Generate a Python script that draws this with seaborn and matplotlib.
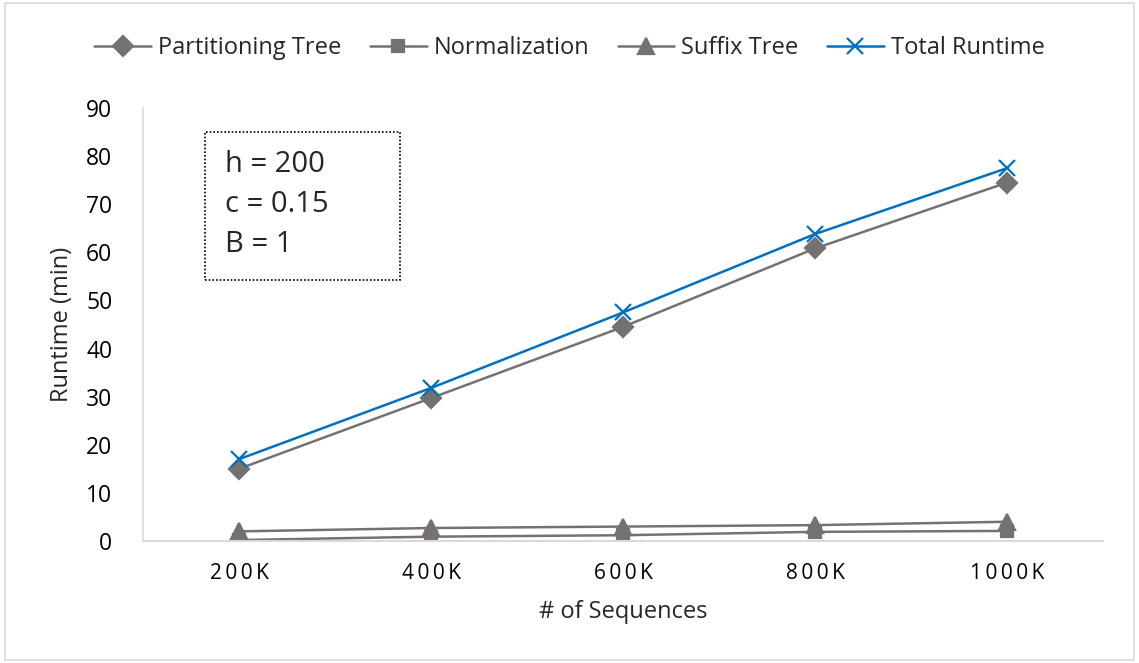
import matplotlib
matplotlib.use("Agg")
import matplotlib.pyplot as plt
import seaborn as sns
import pandas as pd
from matplotlib.patches import Rectangle
from matplotlib.lines import Line2D

categories = ["200K", "400K", "600K", "800K", "1000K"]
partitioning = [15.0, 29.7, 44.5, 60.8, 74.5]
normalization = [0.2, 0.9, 1.2, 1.9, 2.1]
suffix_tree = [2.0, 2.7, 3.0, 3.3, 4.0]
total_runtime = [17.0, 31.8, 47.5, 63.8, 77.5]
series_names = ["Partitioning Tree", "Normalization", "Suffix Tree", "Total Runtime"]
yticks = list(range(0, 91, 10))

series_vals = [partitioning, normalization, suffix_tree, total_runtime]

sns.set_theme(style="white")
plt.rcParams["font.family"] = ["Open Sans", "DejaVu Sans"]

grey = "#767171"
blue = "#0070C0"
palette = {"Partitioning Tree": grey, "Normalization": grey, "Suffix Tree": grey, "Total Runtime": blue}
markers = {"Partitioning Tree": "D", "Normalization": "s", "Suffix Tree": "^", "Total Runtime": "x"}
msize = {"Partitioning Tree": 10, "Normalization": 9, "Suffix Tree": 11, "Total Runtime": 12}

fig = plt.figure(figsize=(11.39, 6.63), dpi=100)
ax = fig.add_axes([143/1139, 1-541/663, 960/1139, 433/663])

for name, vals in zip(series_names, series_vals):
    d = pd.DataFrame({"cat": categories, "val": vals})
    sns.lineplot(data=d, x="cat", y="val", ax=ax, color=palette[name], marker=markers[name],
                 markersize=msize[name], markeredgewidth=1.6, markerfacecolor=palette[name],
                 markeredgecolor=palette[name], linewidth=1.8, sort=False)

ax.set_xlim(-0.5, 4.5)
ax.set_ylim(0, 90)
ax.set_yticks(yticks)
ax.set_yticklabels([str(v) for v in yticks], fontsize=16.5)
ax.set_xticks(range(len(categories)))
ax.set_xticklabels(["\u2009".join(c) for c in categories], fontsize=15)
ax.tick_params(axis="both", colors="black", length=0)
ax.tick_params(axis="x", pad=16)
ax.tick_params(axis="y", pad=22)
for s in ["top", "right"]:
    ax.spines[s].set_visible(False)
ax.spines["left"].set_color("#d9d9d9")
ax.spines["bottom"].set_color("#d9d9d9")
ax.spines["left"].set_linewidth(1.2)
ax.spines["bottom"].set_linewidth(1.5)
ax.set_xlabel("# of Sequences", fontsize=17)
ax.set_ylabel("Runtime (min)", fontsize=17)
ax.xaxis.set_label_coords(0.5, (541-612)/433, transform=ax.transAxes)
ax.yaxis.set_label_coords((62-143)/960, 0.5, transform=ax.transAxes)
ax.yaxis.label.set_va("center")
ax.xaxis.label.set_va("center")

handles = [Line2D([0], [0], color=palette[n], marker=markers[n], markersize=msize[n],
                  markerfacecolor=palette[n], markeredgecolor=palette[n], linewidth=1.8, markeredgewidth=1.6)
           for n in series_names]
fig.legend(handles, series_names, loc="center", bbox_to_anchor=(0.5, 1-48/663), ncol=4,
           frameon=False, fontsize=17, handlelength=2.4, columnspacing=1.2, handletextpad=0.3)

ax.add_patch(Rectangle((0.065, 0.603), 0.203, 0.342, transform=ax.transAxes, fill=False,
                       edgecolor="black", linestyle=(0, (1, 1.2)), linewidth=1.2))
for i, t in enumerate(["h = 200", "c = 0.15", "B = 1"]):
    ax.text((225-143)/960, (541-(165+40*i))/433, t, transform=ax.transAxes, fontsize=21,
            va="center", ha="left")

fig.patches.append(Rectangle((0.004, 0.004), 0.992, 0.992, transform=fig.transFigure,
                             fill=False, edgecolor="#d9d9d9", linewidth=1.2))

fig.savefig("out.png", dpi=100)
